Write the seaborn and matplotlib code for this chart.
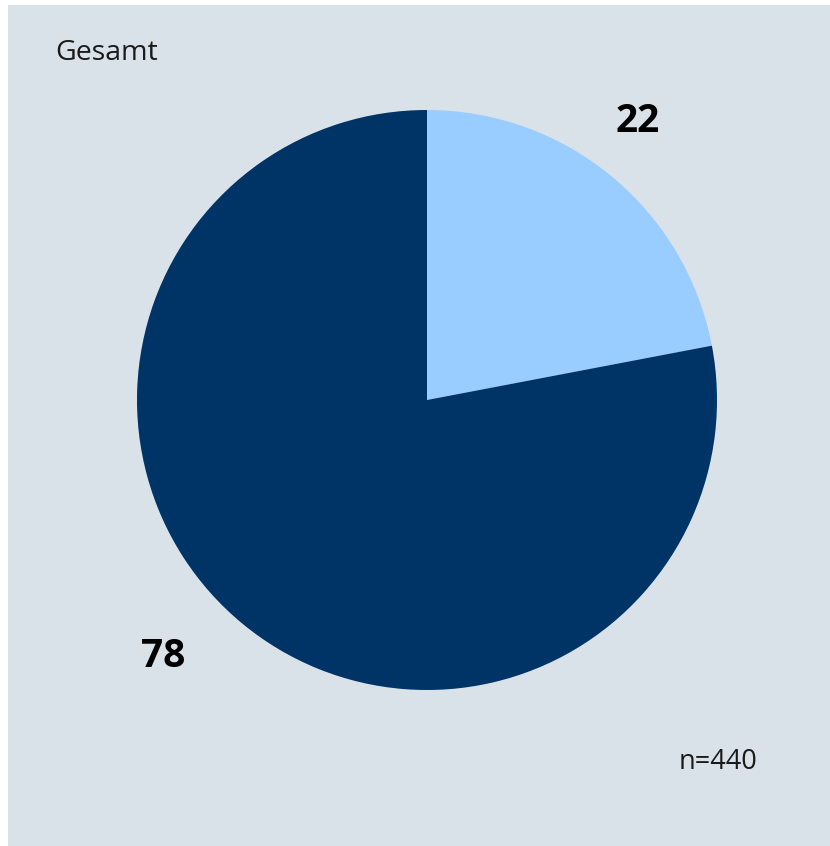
import matplotlib
matplotlib.use("Agg")
import matplotlib.pyplot as plt
import seaborn as sns

# Share of responses (percent)
categories = ["Ja", "Nein"]
shares = [22, 78]
label_text = ["22", "78"]
title_text = "Gesamt"
sample_text = "n=440"

sns.set_theme(style="white")
plt.rcParams["font.family"] = ["Open Sans", "DejaVu Sans"]

bg = "#d9e2e9"
colors = ["#99ccff", "#003366"]

W, H = 830, 846
fig = plt.figure(figsize=(W / 100, H / 100), dpi=100)
fig.patch.set_facecolor("white")

# tinted panel behind the chart
panel = fig.add_axes([8 / W, 0, (W - 8) / W, (H - 5) / H])
panel.set_facecolor(bg)
panel.set_xticks([])
panel.set_yticks([])
for s in panel.spines.values():
    s.set_visible(False)

cx, cy, r = 427, 400, 290
ax = fig.add_axes([(cx - r) / W, (H - cy - r) / H, 2 * r / W, 2 * r / H])
ax.set_facecolor("none")
ax.pie(shares, colors=colors, startangle=90, counterclock=False, radius=1,
       wedgeprops=dict(linewidth=0))
ax.set_xlim(-1, 1)
ax.set_ylim(-1, 1)
ax.set_aspect("equal")
ax.axis("off")

# value labels outside the wedges
label_pos = [(0.726, 0.962), (-0.91, -0.883)]
for txt, (x, y) in zip(label_text, label_pos):
    ax.text(x, y, txt, ha="center", va="center", fontsize=28,
            fontweight="bold", color="black")

fig.text(55 / W, 1 - 53 / H, title_text, ha="left", va="center",
         fontsize=20.5, color="#1a1a1a")
fig.text(757 / W, 1 - 762 / H, sample_text, ha="right", va="center",
         fontsize=19.5, color="#1a1a1a")

fig.savefig("out.png", dpi=100, facecolor=fig.get_facecolor())
